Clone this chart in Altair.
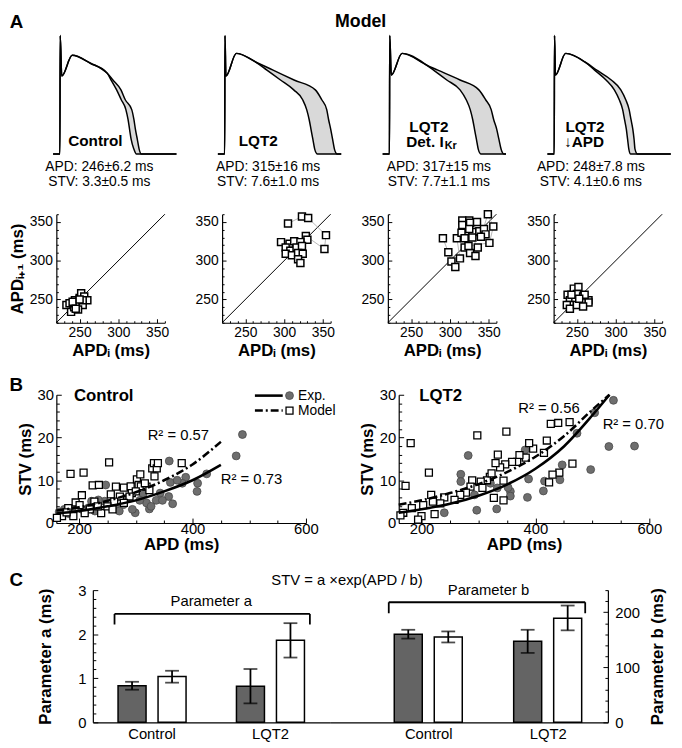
import altair as alt
import pandas as pd

FONT = "Liberation Sans"

# ============================ PANEL A : simulated action potentials
ap_apd = ["APD: 246±6.2 ms", "APD: 315±16 ms", "APD: 317±15 ms", "APD: 248±7.8 ms"]
ap_stv = ["STV: 3.3±0.5 ms", "STV: 7.6±1.0 ms", "STV: 7.7±1.1 ms", "STV: 4.1±0.6 ms"]
ap_name1 = ["Control", "LQT2", "LQT2", "LQT2"]
ap_name2 = ["", "", "Det. I", "↓APD"]
ap_t_domain = [-11.5, 388.5]     # ms shown in each trace panel
ap_t_range = [-22, 378]          # ms, first / last sample of the traces
ap_v_rest = -85                  # mV
ap_v_peak = 35                   # mV
ap_t_peak = 1                    # ms
# early part shared by all beats: notch, dome, plateau  (ms, mV)
ap_early_t = [[6, 40, 99], [4, 38], [6, 41], [4, 37]]
ap_early_v = [[-6, 15, 7], [-6, 17], [-5, 17], [-5, 17]]
# repolarisation: voltage levels and time of the shortest / longest beat
ap_rep_v = [
    [-3, -10, -20, -30, -40, -50, -60, -70, -80, -85],
    [8, 0, -10, -20, -30, -40, -50, -60, -70, -80, -85],
    [5, 0, -10, -20, -30, -40, -50, -60, -70, -80, -85],
    [8, 0, -10, -20, -30, -40, -50, -60, -70, -80, -85],
]
ap_rep_short = [
    [153, 166, 184, 199, 214, 221, 226, 231, 240, 248],
    [102, 137, 181, 224, 253, 266, 274, 280, 286, 292, 301],
    [121, 143, 186, 229, 249, 262, 270, 276, 282, 288, 297],
    [101, 131, 168, 195, 211, 222, 228, 234, 238, 242, 248],
]
ap_rep_long = [
    [153, 172, 198, 212, 233, 240, 245, 251, 257, 264],
    [102, 157, 225, 294, 315, 331, 337, 344, 350, 356, 365],
    [121, 157, 229, 290, 312, 330, 338, 348, 355, 362, 371],
    [101, 138, 185, 216, 232, 243, 249, 255, 259, 262, 270],
]
# annotation anchors in (ms, mV)
ap_name_t = [115, 109, 128, 100]
ap_name_v = [-72, -72, -58, -58]
ap_name2_t = [0, 0, 176, 97]
ap_name2_v = -73
ap_sub_t = 179
ap_sub_v = -77
ap_txt_t = [128, 141, 160, 119]
ap_apd_v = -98
ap_stv_v = -113
letter_a_t, letter_a_v = -163, 49
model_t, model_v = 441, 49

# ============================ PANEL A : Poincare plots (APD_i, APD_i+1)
pc_x = [
    [233, 239, 244, 250, 252, 256, 260, 252, 248, 243, 246, 254, 248, 237, 254, 241, 250, 245],
    [305, 323, 331, 354, 352, 328, 330, 296, 307, 313, 321, 302, 308, 316, 323, 302, 310, 318, 324, 318, 321],
    [291, 298, 302, 307, 313, 309, 315, 316, 316, 325, 326, 335, 329, 319, 319, 326, 333, 336, 329, 338,
     344, 346, 340, 349, 356, 351, 324, 325],
    [238, 241, 246, 252, 250, 258, 265, 265, 256, 248, 241, 237, 241, 250, 258, 260, 243, 253],
]
pc_y = [
    [243, 234, 249, 252, 258, 254, 249, 246, 243, 240, 245, 243, 237, 245, 249, 247, 250, 238],
    [348, 357, 355, 333, 315, 332, 327, 324, 322, 325, 324, 317, 313, 317, 319, 309, 307, 310, 309, 302, 297],
    [329, 311, 299, 292, 303, 329, 336, 352, 346, 352, 349, 350, 337, 329, 317, 310, 306, 317, 330, 338,
     341, 334, 331, 360, 344, 323, 319, 341],
    [256, 249, 264, 266, 257, 254, 249, 246, 246, 247, 243, 243, 238, 243, 241, 256, 256, 251],
]
pc_identity = [220, 360]
pc_major = [250, 300, 350]
pc_minor = list(range(220, 361, 10))

# ============================ PANEL B : STV vs APD
ctrl_exp_apd = [488, 477, 359, 425, 388, 408, 409, 382, 361, 365, 358, 343, 336, 324, 319, 299, 313, 307, 247,
                284, 278, 263, 245, 234, 222, 217, 205, 197, 188, 182, 174, 165, 228, 294, 327, 347, 271, 373]
ctrl_exp_stv = [20.7, 15.7, 14.5, 11.5, 10.7, 7.4, 9.3, 9.3, 9.5, 4.5, 6.2, 7.0, 5.3, 3.3, 4.7, 2.4, 6.9, 5.3, 8.9,
                5.8, 4.3, 3.9, 5.1, 5.4, 5.1, 3.6, 3.2, 4.3, 2.8, 2.2, 3.2, 2.6, 2.8, 3.2, 3.9, 5.3, 2.8, 10.0]
ctrl_mod_apd = [185, 208, 253, 224, 235, 205, 194, 181, 170, 161, 190, 178, 201, 219, 227, 239, 256, 265, 272, 279,
                291, 293, 302, 308, 305, 309, 300, 289, 262, 250, 233, 210, 259, 279, 329, 332, 337, 333, 339, 381,
                319, 324, 316]
ctrl_mod_stv = [11.5, 11.8, 14.2, 8.8, 8.9, 6.5, 4.8, 3.5, 1.6, 1.2, 1.6, 2.5, 4.2, 3.2, 5.0, 2.3, 6.7, 8.5, 6.2, 8.3,
                8.6, 7.0, 10.2, 11.4, 8.9, 8.6, 7.4, 6.2, 5.0, 3.9, 3.9, 2.3, 3.2, 4.7, 12.8, 14.0, 12.8, 10.9, 14.0,
                14.0, 8.5, 7.7, 9.3]
lqt_exp_apd = [537, 529, 574, 497, 447, 443, 416, 414, 388, 386, 382, 356, 356, 352, 332, 282, 269, 269, 297, 240,
               333, 321, 293, 504, 473]
lqt_exp_stv = [28.7, 17.9, 18.0, 12.5, 13.6, 10.1, 9.8, 7.5, 10.3, 6.0, 17.1, 7.4, 6.3, 8.3, 3.3, 15.8, 11.4, 9.7,
               3.0, 2.4, 8.2, 9.3, 6.6, 25.8, 21.0]
lqt_mod_apd = [181, 172, 213, 298, 349, 427, 440, 460, 465, 442, 424, 430, 415, 420, 396, 389, 383, 372, 368, 359,
               347, 338, 334, 330, 320, 315, 304, 289, 286, 278, 268, 258, 240, 217, 233, 220, 203, 183, 168, 200,
               223, 344, 344, 323, 327, 307, 194, 163]
lqt_mod_stv = [18.7, 8.7, 11.8, 20.5, 21.4, 23.2, 23.4, 23.6, 13.9, 11.8, 9.5, 11.3, 16.4, 19.3, 17.4, 18.7, 15.3,
               15.9, 14.3, 14.3, 13.7, 13.0, 16.0, 14.0, 10.8, 10.0, 9.7, 10.0, 8.5, 7.1, 6.6, 5.4, 6.0, 6.6, 4.6,
               5.0, 4.2, 3.5, 2.4, 1.6, 2.1, 5.3, 9.9, 11.6, 5.9, 8.2, 0.8, 1.8]
ctrl_fit_apd = [160, 200, 250, 300, 350, 400, 450]
ctrl_fit_exp = [2.2, 2.8, 3.9, 5.3, 7.4, 10.0, 13.6]
ctrl_fit_mod = [2.9, 3.7, 5.2, 7.2, 10.0, 13.7, 19.0]
lqt_fit_apd = [160, 200, 250, 300, 350, 400, 450, 500, 530]
lqt_fit_exp = [2.4, 3.2, 4.5, 6.4, 9.0, 12.7, 17.9, 25.2, 30.0]
lqt_fit_mod = [4.3, 5.3, 7.0, 9.1, 11.9, 15.5, 20.3, 26.5, 30.0]
ctrl_r2 = ["R² = 0.57", "R² = 0.73"]
ctrl_r2_apd = [321, 450]
ctrl_r2_stv = [20.5, 10.2]
lqt_r2 = ["R² = 0.56", "R² = 0.70"]
lqt_r2_apd = [370, 518]
lqt_r2_stv = [27.0, 23.1]
legend_labels = ["Exp.", "Model"]
b_name_apd = [191, 196]
b_name_stv = 29.6
letter_b_apd, letter_b_stv = 77.6, 32.3
b_x_major = [200, 400, 600]
b_x_minor = list(range(200, 601, 50))
b_y_major = [0, 10, 20, 30]
b_y_minor = list(range(0, 31, 2))

# ============================ PANEL C : fit parameters
c_groups = ["Control", "LQT2"]
c_series = ["Exp.", "Model"]
a_mean = [0.83, 1.04, 0.82, 1.86]
a_lo = [0.74, 0.90, 0.43, 1.47]
a_hi = [0.92, 1.17, 1.21, 2.25]
b_mean = [160, 155, 147, 189]
b_lo = [152, 145, 126, 167]
b_hi = [168, 165, 168, 212]
c_formula = "STV = a ×exp(APD / b)"
a_major = [0, 1, 2, 3]
a_minor = [round(i * 0.2, 1) for i in range(16)]
b_major = [0, 100, 200]
b_minor = list(range(0, 241, 20))


# ---------------------------------------------------------------- helpers
def cond_size(test, major, minor):
    return {"condition": {"test": test, "value": major}, "value": minor}


def tick_axis(orient, offset, values, test, major, minor):
    """Axis that only draws ticks, pointing into the plot."""
    return alt.Axis(orient=orient, offset=offset, values=values, labels=False, domain=False, title=None,
                    tickSize=cond_size(test, major, minor))


def ap_frame(k):
    rows = []
    for beat, times in (("short", ap_rep_short[k]), ("long", ap_rep_long[k])):
        pts = [(ap_t_range[0], ap_v_rest), (0, ap_v_rest), (ap_t_peak, ap_v_peak)]
        pts += list(zip(ap_early_t[k], ap_early_v[k]))
        pts += list(zip(times, ap_rep_v[k]))
        pts += [(ap_t_range[1], ap_v_rest)]
        for i, (t, v) in enumerate(pts):
            rows.append(dict(kind="line", beat=beat, i=i, x=t, y=v))
    for v, t1, t2 in zip(ap_rep_v[k], ap_rep_short[k], ap_rep_long[k]):
        rows.append(dict(kind="band", x=t1, x2=t2, y=v))
    rows.append(dict(kind="name", x=ap_name_t[k], y=ap_name_v[k], text=ap_name1[k]))
    if k == 2:
        rows.append(dict(kind="namer", x=ap_name2_t[k], y=ap_name2_v, text=ap_name2[k]))
        rows.append(dict(kind="sub", x=ap_sub_t, y=ap_sub_v, text="Kr"))
    if k == 3:
        rows.append(dict(kind="name", x=ap_name2_t[k], y=ap_name2_v, text=ap_name2[k]))
    rows.append(dict(kind="norm", x=ap_txt_t[k], y=ap_apd_v, text=ap_apd[k]))
    rows.append(dict(kind="norm", x=ap_txt_t[k], y=ap_stv_v, text=ap_stv[k]))
    if k == 0:
        rows.append(dict(kind="letter", x=letter_a_t, y=letter_a_v, text="A"))
    if k == 1:
        rows.append(dict(kind="model", x=model_t, y=model_v, text="Model"))
    return pd.DataFrame(rows)


T_X = alt.Scale(domain=ap_t_domain, nice=False, zero=False)
T_Y = alt.Scale(domain=[-121, 57], nice=False, zero=False)


def trace_chart(k):
    df = ap_frame(k)
    base = alt.Chart(df).encode(
        x=alt.X("x:Q", scale=T_X, axis=None),
        y=alt.Y("y:Q", scale=T_Y, axis=None),
    )
    f = lambda kind: base.transform_filter(f"datum.kind == '{kind}'")
    layers = [
        f("band").mark_area(orient="horizontal", color="#d9d9d9", interpolate="monotone").encode(x2="x2:Q"),
        f("line").mark_line(color="black", strokeWidth=1.5, interpolate="monotone").encode(
            detail="beat:N", order="i:Q"),
        f("name").mark_text(fontSize=15.5, fontWeight="bold", color="black").encode(text="text:N"),
        f("namer").mark_text(fontSize=15.5, fontWeight="bold", color="black", align="right").encode(
            text="text:N"),
        f("sub").mark_text(fontSize=11, fontWeight="bold", color="black", align="left").encode(text="text:N"),
        f("norm").mark_text(fontSize=14, color="black").encode(text="text:N"),
        f("letter").mark_text(fontSize=19, fontWeight="bold", color="black", align="left").encode(
            text="text:N"),
        f("model").mark_text(fontSize=18, fontWeight="bold", color="black").encode(text="text:N"),
    ]
    return alt.layer(*layers).properties(width=125, height=178)


P_SCALE = alt.Scale(domain=[220, 360], nice=False, zero=False)
P_AXIS_DF = pd.DataFrame({"x": [250], "y": [250]})   # invisible anchor inside the plot


def poincare_chart(k):
    rows = [dict(kind="diag", x=v, y=v) for v in pc_identity]
    rows += [dict(kind="pt", i=i, x=a, y=b) for i, (a, b) in enumerate(zip(pc_x[k], pc_y[k]))]
    df = pd.DataFrame(rows)
    base = alt.Chart(df).encode(
        x=alt.X("x:Q", scale=P_SCALE, axis=None),
        y=alt.Y("y:Q", scale=P_SCALE, axis=None),
    )
    yax = dict(values=pc_major, ticks=False, labelFontSize=14, labelPadding=4, labelFlush=False,
               labelOverlap=False, titleFontSize=17, titleFontWeight="bold", titlePadding=3)
    y_axis = alt.Axis(title="APDᵢ₊₁ (ms)", **yax) if k == 0 else alt.Axis(title=None, **yax)
    main_axes = alt.Chart(P_AXIS_DF).mark_point(opacity=0).encode(
        x=alt.X("x:Q", scale=P_SCALE, axis=alt.Axis(
            values=pc_major, ticks=False, labelFontSize=14, labelPadding=3, labelFlush=False,
            labelOverlap=False, title="APDᵢ (ms)", titleFontSize=17, titleFontWeight="bold", titlePadding=3)),
        y=alt.Y("y:Q", scale=P_SCALE, axis=y_axis))
    in_axes = alt.Chart(P_AXIS_DF).mark_point(opacity=0).encode(
        x=alt.X("x:Q", scale=P_SCALE, axis=tick_axis("top", -110, pc_minor, "datum.value % 50 === 0", 4, 2)),
        y=alt.Y("y:Q", scale=P_SCALE, axis=tick_axis("right", -110, pc_minor, "datum.value % 50 === 0", 4, 2)))
    diag = base.transform_filter("datum.kind == 'diag'").mark_line(color="black", strokeWidth=1)
    conn = base.transform_filter("datum.kind == 'pt'").mark_line(
        color="#a5a5a5", strokeWidth=0.8).encode(order="i:Q")
    pts = base.transform_filter("datum.kind == 'pt'").mark_square(
        size=50, fill="white", stroke="black", strokeWidth=1.5, opacity=1)
    return alt.layer(main_axes, in_axes, diag, conn, pts).resolve_axis(
        x="independent", y="independent").properties(width=110, height=110)


B_Y = alt.Scale(domain=[0, 30], nice=False)
B_AXIS_DF = pd.DataFrame({"x": [300], "y": [5]})     # invisible anchor inside the plot


def stv_chart(name, name_x, e_x, e_y, m_x, m_y, f_x, f_e, f_m, r_txt, r_x, r_y, first, width):
    bxs = alt.Scale(domain=[160, 600], nice=False, zero=False)
    rows = [dict(kind="exp", x=a, y=b) for a, b in zip(e_x, e_y)]
    rows += [dict(kind="mod", x=a, y=b) for a, b in zip(m_x, m_y)]
    rows += [dict(kind="fexp", x=a, y=b) for a, b in zip(f_x, f_e)]
    rows += [dict(kind="fmod", x=a, y=b) for a, b in zip(f_x, f_m)]
    rows += [dict(kind="r2", x=a, y=b, text=t) for t, a, b in zip(r_txt, r_x, r_y)]
    rows.append(dict(kind="name", x=name_x, y=b_name_stv, text=name))
    if first:
        rows += [dict(kind="lexp", x=a, y=29.8) for a in (510, 559)]
        rows += [dict(kind="lmod", x=a, y=26.3) for a in (510, 559)]
        rows.append(dict(kind="pexp", x=571, y=29.8))
        rows.append(dict(kind="pmod", x=571, y=26.3))
        rows.append(dict(kind="ltxt", x=586, y=29.8, text=legend_labels[0]))
        rows.append(dict(kind="ltxt", x=586, y=26.3, text=legend_labels[1]))
        rows.append(dict(kind="letter", x=letter_b_apd, y=letter_b_stv, text="B"))
    df = pd.DataFrame(rows)
    base = alt.Chart(df).encode(x=alt.X("x:Q", scale=bxs, axis=None), y=alt.Y("y:Q", scale=B_Y, axis=None))
    f = lambda k: base.transform_filter(f"datum.kind == '{k}'")
    circ_kw = dict(size=64, color="#6e6e6e", stroke="#4a4a4a", strokeWidth=0.8, opacity=1)
    sq_kw = dict(size=50, fill="white", stroke="black", strokeWidth=1.3, opacity=1)
    main_axes = alt.Chart(B_AXIS_DF).mark_point(opacity=0).encode(
        x=alt.X("x:Q", scale=bxs, axis=alt.Axis(
            values=b_x_major, ticks=False, labelFontSize=15, labelPadding=-1, labelFlush=False,
            labelOverlap=False, title="APD (ms)", titleFontSize=17, titleFontWeight="bold", titlePadding=0)),
        y=alt.Y("y:Q", scale=B_Y, axis=alt.Axis(
            values=b_y_major, ticks=False, labelFontSize=15, labelPadding=3, labelFlush=False,
            labelOverlap=False, title="STV (ms)", titleFontSize=17, titleFontWeight="bold", titlePadding=3)))
    in_axes = alt.Chart(B_AXIS_DF).mark_point(opacity=0).encode(
        x=alt.X("x:Q", scale=bxs, axis=tick_axis("top", -130, b_x_minor, "datum.value % 200 === 0", 5, 3)),
        y=alt.Y("y:Q", scale=B_Y, axis=tick_axis("right", -width, b_y_minor, "datum.value % 10 === 0", 5, 3)))
    layers = [
        main_axes, in_axes,
        f("exp").mark_circle(**circ_kw),
        f("mod").mark_square(**sq_kw),
        f("fexp").mark_line(color="black", strokeWidth=2.6, interpolate="monotone"),
        f("fmod").mark_line(color="black", strokeWidth=2.6, strokeDash=[8, 3, 2, 3], interpolate="monotone"),
        f("r2").mark_text(fontSize=15, align="left", color="black").encode(text="text:N"),
        f("name").mark_text(fontSize=17, fontWeight="bold", align="left", color="black").encode(text="text:N"),
    ]
    if first:
        layers += [
            f("lexp").mark_line(color="black", strokeWidth=2.6),
            f("lmod").mark_line(color="black", strokeWidth=2.6, strokeDash=[8, 3, 2, 3]),
            f("pexp").mark_circle(**circ_kw),
            f("pmod").mark_square(**sq_kw),
            f("ltxt").mark_text(fontSize=14, align="left", color="black").encode(text="text:N"),
            f("letter").mark_text(fontSize=19, fontWeight="bold", align="left", color="black").encode(
                text="text:N"),
        ]
    return alt.layer(*layers).resolve_axis(x="independent", y="independent").properties(
        width=width, height=130)


def param_chart(mean, lo, hi, ydomain, y_major, y_minor, major_test, orient, ytitle, xscale, width,
                br, br_label):
    df = pd.DataFrame(dict(
        group=[g for g in c_groups for _ in c_series],
        series=c_series * 2, mean=mean, lo=lo, hi=hi))
    ys = alt.Scale(domain=ydomain, nice=False)
    if orient == "left":
        ya = alt.Axis(orient="left", values=y_major, ticks=False, format="d", labelFontSize=15, labelPadding=7,
                      labelFlush=False, labelOverlap=False, title=ytitle, titleFontSize=17,
                      titleFontWeight="bold", titlePadding=24)
        ya_in = tick_axis("right", -width, y_minor, major_test, 5, 3)
    else:
        ya = alt.Axis(orient="right", values=y_major, ticks=False, format="d", labelFontSize=15, labelPadding=7,
                      labelFlush=False, labelOverlap=False, title=ytitle, titleFontSize=17,
                      titleFontWeight="bold", titlePadding=10, titleAngle=270, titleBaseline="top")
        ya_in = tick_axis("left", -width, y_minor, major_test, 5, 3)
    xa = alt.Axis(title=None, labelAngle=0, ticks=False, labelFontSize=15, labelPadding=4)
    xo = alt.XOffset("series:N", scale=alt.Scale(domain=c_series, paddingInner=0.3, paddingOuter=0.63))
    X = lambda field, **kw: alt.X(field, scale=xscale, axis=xa, **kw)
    Y = lambda field: alt.Y(field, scale=ys, axis=None)
    base = alt.Chart(df).encode(x=X("group:N", sort=c_groups), xOffset=xo)
    axis_main = base.mark_point(opacity=0).encode(y=alt.Y("mean:Q", scale=ys, axis=ya))
    axis_in = base.mark_point(opacity=0).encode(y=alt.Y("mean:Q", scale=ys, axis=ya_in))
    bars = base.mark_bar(stroke="black", strokeWidth=1.5).encode(
        y=Y("mean:Q"),
        color=alt.Color("series:N", scale=alt.Scale(domain=c_series, range=["#646464", "#ffffff"]), legend=None))
    err = base.mark_rule(color="black", strokeWidth=1.8).encode(y=Y("lo:Q"), y2="hi:Q")
    cap1 = base.mark_tick(color="black", size=14, thickness=1.8).encode(y=Y("lo:Q"))
    cap2 = base.mark_tick(color="black", size=14, thickness=1.8).encode(y=Y("hi:Q"))
    bdf = pd.DataFrame(dict(group=[c_groups[0]], g2=[c_groups[1]], lo=[br[0]], hi=[br[1]], t=[br[2]],
                            text=[br_label]))
    bb = alt.Chart(bdf)
    hline = bb.mark_rule(color="black", strokeWidth=1.8).encode(
        x=X("group:N", bandPosition=br[3]), x2=alt.X2("g2:N", bandPosition=br[4]), y=Y("lo:Q"))
    lend = bb.mark_rule(color="black", strokeWidth=1.8).encode(
        x=X("group:N", bandPosition=br[3]), y=Y("lo:Q"), y2="hi:Q")
    rend = bb.mark_rule(color="black", strokeWidth=1.8).encode(
        x=X("g2:N", bandPosition=br[4]), y=Y("lo:Q"), y2="hi:Q")
    lab = bb.mark_text(fontSize=15, color="black").encode(
        x=X("group:N", bandPosition=1.0), y=Y("t:Q"), text="text:N")
    return alt.layer(axis_main, axis_in, bars, err, cap1, cap2, hline, lend, rend, lab).resolve_axis(
        y="independent").properties(width=width, height=134)


# ---------------------------------------------------------------- assemble
row1 = alt.hconcat(*[trace_chart(k) for k in range(4)], spacing=42, bounds="flush")
row2 = alt.hconcat(*[poincare_chart(k) for k in range(4)], spacing=58, bounds="flush")
row3 = alt.hconcat(
    stv_chart("Control", b_name_apd[0], ctrl_exp_apd, ctrl_exp_stv, ctrl_mod_apd, ctrl_mod_stv, ctrl_fit_apd,
              ctrl_fit_exp, ctrl_fit_mod, ctrl_r2, ctrl_r2_apd, ctrl_r2_stv, True, 253),
    stv_chart("LQT2", b_name_apd[1], lqt_exp_apd, lqt_exp_stv, lqt_mod_apd, lqt_mod_stv, lqt_fit_apd,
              lqt_fit_exp, lqt_fit_mod, lqt_r2, lqt_r2_apd, lqt_r2_stv, False, 254),
    spacing=94, bounds="flush")

xs_a = alt.Scale(domain=c_groups, paddingInner=0, paddingOuter=0)
xs_b = alt.Scale(domain=c_groups, paddingInner=0, paddingOuter=0.165, align=1)
c_left = param_chart(a_mean, a_lo, a_hi, [0, 3], a_major, a_minor,
                     "abs(datum.value - round(datum.value)) < 0.001", "left", "Parameter a (ms)", xs_a, 240,
                     [2.46, 2.22, 2.75, 0.183, 0.833], "Parameter a")
c_right = param_chart(b_mean, b_lo, b_hi, [0, 240], b_major, b_minor, "datum.value % 100 === 0", "right",
                      "Parameter b (ms)", xs_b, 282, [218, 198, 240, 0.165, 0.81], "Parameter b")
# narrow left strip carrying the panel letter and the formula
sp_df = pd.DataFrame(dict(kind=["letter", "formula"], x=[-47.4, 294.6], y=[3.224, 3.224],
                          text=["C", c_formula]))
sp_base = alt.Chart(sp_df).encode(
    x=alt.X("x:Q", scale=alt.Scale(domain=[0, 37], nice=False, zero=False), axis=None),
    y=alt.Y("y:Q", scale=alt.Scale(domain=[0, 3], nice=False), axis=None))
spacer = alt.layer(
    sp_base.transform_filter("datum.kind == 'letter'").mark_text(
        fontSize=19, fontWeight="bold", align="left", color="black").encode(text="text:N"),
    sp_base.transform_filter("datum.kind == 'formula'").mark_text(
        fontSize=15, color="black").encode(text="text:N"),
).properties(width=37, height=134)
row4 = alt.hconcat(spacer, c_left, c_right, spacing=0, bounds="flush").resolve_scale(color="independent")

chart = alt.vconcat(row1, row2, row3, row4, spacing=18).properties(padding=0, background="white")

chart = chart.configure(font=FONT).configure_view(stroke=None).configure_axis(
    grid=False, domainColor="black", tickColor="black", labelColor="black", titleColor="black",
    domainWidth=1.2, tickWidth=1, labelFont=FONT, titleFont=FONT,
).configure_title(font=FONT, color="black")

chart.save("out.html", embed_options={"renderer": "svg", "actions": False})
